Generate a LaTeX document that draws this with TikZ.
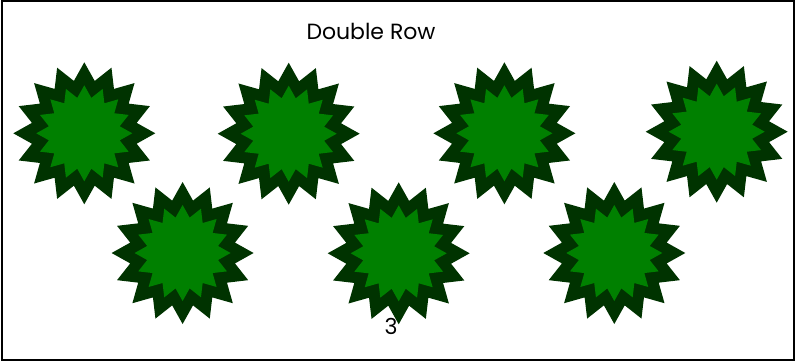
\documentclass[tikz,border=0pt]{standalone}
\usepackage{fontspec}
\setmainfont{Poppins}
\usetikzlibrary{shapes.geometric}
\definecolor{sundark}{HTML}{003300}
\definecolor{sungreen}{HTML}{008000}
\tikzset{
  sunout/.style={
    shape = star,
    star points = 16,
    star point ratio = 1.33,
    minimum size = 142pt,
    inner sep = 0pt,
    fill = sundark
  },
  sunin/.style={
    shape = star,
    star points = 16,
    star point ratio = 1.33,
    minimum size = 96pt,
    inner sep = 0pt,
    fill = sungreen
  },
  caption/.style={
    font = \fontsize{22}{24}\selectfont,
    inner sep = 0pt
  }
}
\begin{document}
\begin{tikzpicture}[x=1pt,y=-1pt]
    \useasboundingbox (0,0) rectangle (795,361);
    \draw[line width=2pt] (1.5,1) rectangle (794,359.5);
    \node[caption] (title) at (371,31) {Double Row};
    % top row, then bottom row
    \foreach \i/\x/\y in {1/84.3/133.3, 2/288.7/133.7, 3/504.4/133.3, 4/716.7/131.7,
                          5/182.6/253, 6/398.7/253.3, 7/614.3/253} {
        \node[sunout] (out\i) at (\x,\y) {};
        \node[sunin] (in\i) at (out\i) {};
    }
    \node[caption] (count) at (391,326.7) {3};
\end{tikzpicture}
\end{document}
